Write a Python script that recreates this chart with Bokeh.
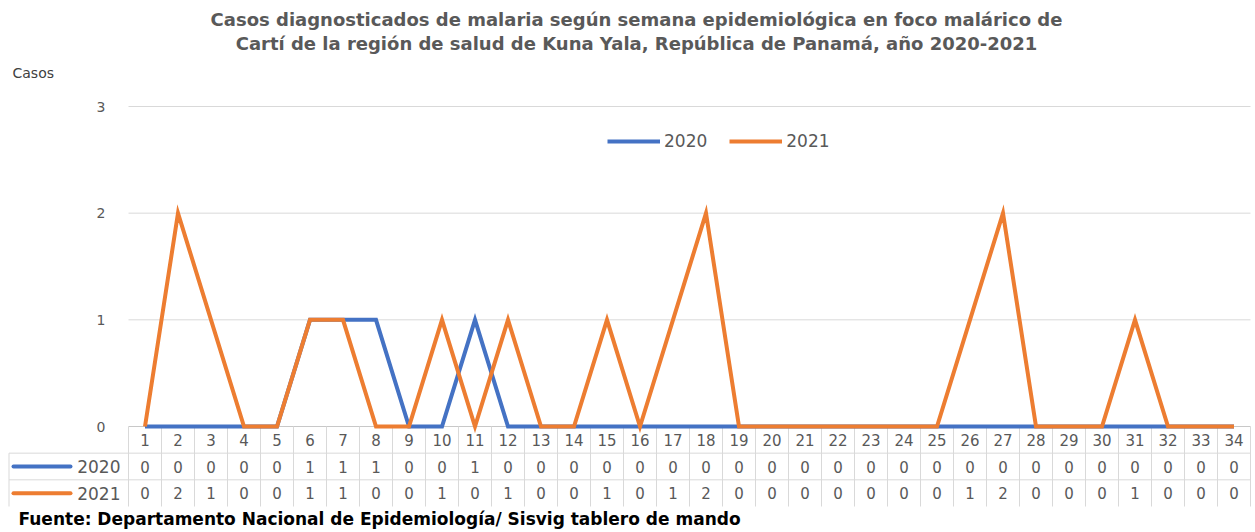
from bokeh.plotting import figure
from bokeh.models import Range1d, Legend, LegendItem
from bokeh.core.properties import value
from bokeh.embed import file_html
from bokeh.resources import INLINE

# ---------------- data ----------------
weeks = list(range(1, 35))
casos_2020 = [0, 0, 0, 0, 0, 1, 1, 1, 0, 0, 1, 0, 0, 0, 0, 0, 0,
              0, 0, 0, 0, 0, 0, 0, 0, 0, 0, 0, 0, 0, 0, 0, 0, 0]
casos_2021 = [0, 2, 1, 0, 0, 1, 1, 0, 0, 1, 0, 1, 0, 0, 1, 0, 1,
              2, 0, 0, 0, 0, 0, 0, 0, 1, 2, 0, 0, 0, 1, 0, 0, 0]
y_ticks = [0, 1, 2, 3]
series_names = ["2020", "2021"]
series_colors = ["#4472C4", "#ED7D31"]
title_lines = [
    "Casos diagnosticados de malaria según semana epidemiológica en foco malárico de",
    "Cartí de la región de salud de Kuna Yala, República de Panamá, año 2020-2021",
]
y_label = "Casos"
source_note = "Fuente: Departamento Nacional de Epidemiología/ Sisvig tablero de mando"

# ---------------- layout helpers (page pixels -> data) ----------------
W, H = 1252, 530
PAGE_L, PAGE_T = 0, 0
PLOT_L, PLOT_R = 128, 1250
Y0_PX, Y3_PX = 426, 106
ux = (PLOT_R - PLOT_L) / len(weeks)
x_start = 0.5 - (PLOT_L - PAGE_L) / ux
x_end = len(weeks) + 0.5 + (PAGE_L + W - PLOT_R) / ux
uy = (Y0_PX - Y3_PX) / (y_ticks[-1] - y_ticks[0])
y_end = y_ticks[-1] + (Y3_PX - PAGE_T) / uy
y_start = -((PAGE_T + H) - Y0_PX) / uy
x_last = len(weeks) + 0.5


def X(px):
    return x_start + (px - PAGE_L) / ux


def Y(py):
    return y_end - (py - PAGE_T) / uy


ROW = 0.25  # table row height in data units
FONT = value("DejaVu Sans")
GRAY = "#595959"
GRID = "#D9D9D9"

p = figure(width=W, height=H, x_range=Range1d(x_start, x_end),
           y_range=Range1d(y_start, y_end), output_backend="svg",
           toolbar_location=None, x_axis_location=None, y_axis_location=None,
           min_border=0)
p.xgrid.visible = False
p.ygrid.visible = False
p.outline_line_color = None
p.background_fill_color = "white"

# gridlines
p.segment(x0=0.5, x1=x_last, y0=y_ticks[1:], y1=y_ticks[1:],
          line_color=GRID, line_width=1)
# y tick labels
p.text(x=X(105), y=y_ticks, text=[str(t) for t in y_ticks], text_align="right",
       text_baseline="middle", text_font=FONT, text_font_size="14px",
       text_color=GRAY)
# axis title
p.text(x=X(12), y=Y(72), text=[y_label], text_align="left",
       text_baseline="middle", text_font=FONT, text_font_size="14px",
       text_color="#404040")

# title
p.text(x=X(636), y=[Y(19), Y(43)], text=title_lines, text_align="center",
       text_baseline="middle", text_font=FONT, text_font_size="18px",
       text_font_style="bold", text_color=GRAY)

# table grid
p.segment(x0=0.5, x1=x_last, y0=0, y1=0, line_color="#C8C8C8", line_width=1)
vx = [i + 0.5 for i in range(len(weeks) + 1)]
p.segment(x0=vx, x1=vx, y0=0, y1=-3 * ROW, line_color=GRID, line_width=1)
p.segment(x0=X(8.5), x1=X(8.5), y0=-ROW, y1=-3 * ROW, line_color=GRID, line_width=1)
p.segment(x0=X(8.5), x1=x_last, y0=[-ROW, -2 * ROW], y1=[-ROW, -2 * ROW],
          line_color=GRID, line_width=1)

# table text
p.text(x=weeks, y=-0.5 * ROW, text=[str(w) for w in weeks], text_align="center",
       text_baseline="middle", text_font=FONT, text_font_size="15px",
       text_color=GRAY)
for k, vals in enumerate([casos_2020, casos_2021]):
    yc = -(k + 1.5) * ROW
    p.text(x=weeks, y=yc, text=[str(v) for v in vals], text_align="center",
           text_baseline="middle", text_font=FONT, text_font_size="15px",
           text_color=GRAY)
    p.segment(x0=X(13), x1=X(70), y0=yc, y1=yc, line_color=series_colors[k],
              line_width=4, line_cap="round")
    p.text(x=X(120), y=yc, text=[series_names[k]], text_align="right",
           text_baseline="middle", text_font=FONT, text_font_size="17px",
           text_color=GRAY)

# series lines
r20 = p.line(weeks, casos_2020, line_color=series_colors[0], line_width=4,
             line_join="miter")
r21 = p.line(weeks, casos_2021, line_color=series_colors[1], line_width=4,
             line_join="miter")

legend = Legend(items=[LegendItem(label=series_names[0], renderers=[r20]),
                       LegendItem(label=series_names[1], renderers=[r21])],
                orientation="horizontal",
                location=(607 - PAGE_L, PAGE_T + H - 151),
                glyph_width=53, glyph_height=20, label_standoff=4, spacing=22,
                padding=0, margin=0, border_line_color=None,
                background_fill_alpha=0, label_text_font="DejaVu Sans",
                label_text_font_size="17px", label_text_color=GRAY)
p.add_layout(legend, "center")

# source note
p.text(x=X(18), y=Y(518), text=[source_note], text_align="left",
       text_baseline="middle", text_font=FONT, text_font_size="17px",
       text_font_style="bold", text_color="black")

open("out.html", "w").write(file_html(p, INLINE))
